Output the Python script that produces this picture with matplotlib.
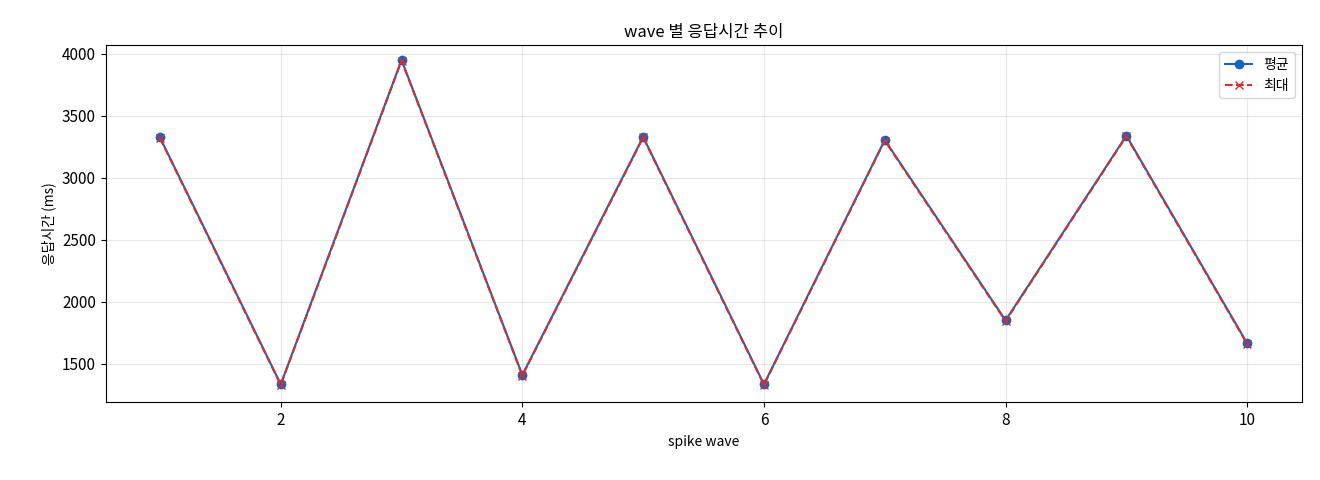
import matplotlib
matplotlib.use("Agg")
import matplotlib.pyplot as plt

plt.rcParams['font.family'] = ['Noto Sans CJK KR', 'DejaVu Sans']
plt.rcParams['axes.unicode_minus'] = False

waves = [1, 2, 3, 4, 5, 6, 7, 8, 9, 10]
avg_ms = [3325, 1335, 3950, 1410, 3330, 1335, 3305, 1850, 3340, 1665]
max_ms = [3320, 1330, 3945, 1405, 3325, 1330, 3300, 1845, 3335, 1660]

fig = plt.figure(figsize=(13.2, 4.8), dpi=100)
ax = fig.add_axes([0.080, 0.162, 0.906, 0.744])
ax.plot(waves, avg_ms, '-o', color='#1565C0', label='평균', markersize=6)
ax.plot(waves, max_ms, '--x', color='#D32F2F', label='최대', markersize=6)
ax.set_title('wave 별 응답시간 추이', fontsize=12)
ax.set_xlabel('spike wave', fontsize=10)
ax.set_ylabel('응답시간 (ms)', fontsize=10)
ax.set_ylim(1190, 4070)
ax.tick_params(labelsize=11)
ax.grid(True, alpha=0.3)
ax.legend(loc='upper right', fontsize=10)
fig.savefig('out.png', dpi=100)
